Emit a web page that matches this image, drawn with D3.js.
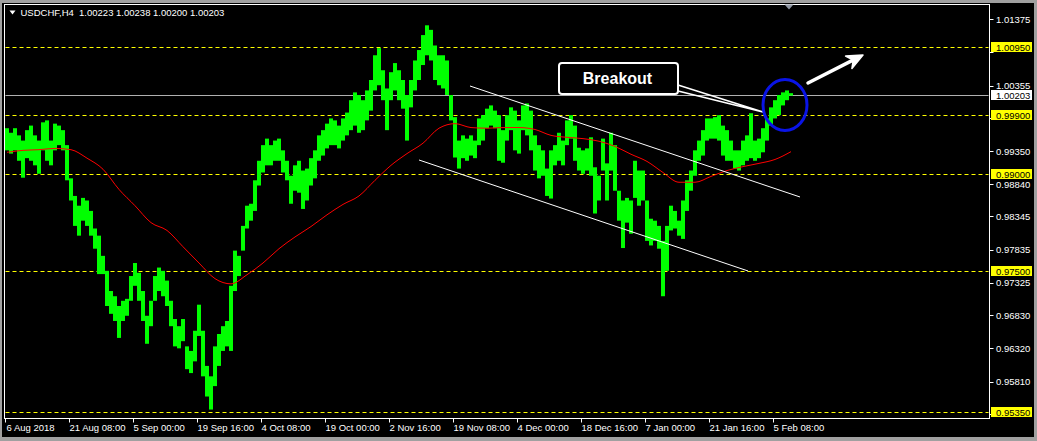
<!DOCTYPE html>
<html><head><meta charset="utf-8">
<script src="https://cdn.jsdelivr.net/npm/d3@7"></script>
<style>html,body{margin:0;padding:0;background:#a0a0a0;overflow:hidden}</style>
</head><body>
<svg id="c" width="1037" height="441"></svg>
<script>
// ---------------- data ----------------
const symbolTitle = "USDCHF,H4  1.00223 1.00238 1.00200 1.00203";

const barHigh = [
0.9970,0.9963,0.9970,0.9959,0.9951,0.9967,0.9974,0.9959,0.9951,0.9979,
0.9982,0.9951,0.9977,0.9974,0.9967,0.9944,0.9893,0.9866,0.9851,0.9863,
0.9859,0.9843,0.9816,0.9805,0.9774,0.9751,0.9720,0.9712,0.9697,0.9705,
0.9708,0.9743,0.9763,0.9748,0.9720,0.9682,0.9705,0.9743,0.9756,0.9751,
0.9736,0.9705,0.9677,0.9666,0.9677,0.9635,0.9628,0.9659,0.9699,0.9659,
0.9605,0.9589,0.9635,0.9654,0.9666,0.9674,0.9728,0.9782,0.9774,0.9820,
0.9851,0.9854,0.9890,0.9920,0.9944,0.9954,0.9944,0.9951,0.9954,0.9936,
0.9920,0.9897,0.9913,0.9920,0.9905,0.9908,0.9924,0.9936,0.9959,0.9967,
0.9977,0.9985,0.9982,0.9974,0.9985,0.9994,1.0013,1.0025,1.0021,1.0013,
1.0028,1.0044,1.0082,1.0093,1.0059,1.0031,1.0056,1.0070,1.0059,1.0044,
1.0021,1.0044,1.0074,1.0090,1.0113,1.0128,1.0121,1.0097,1.0082,1.0082,
1.0074,1.0021,0.9987,0.9951,0.9959,0.9954,0.9959,0.9951,0.9985,0.9990,
1.0000,1.0005,0.9997,0.9990,0.9967,0.9990,1.0002,0.9997,0.9982,1.0005,
1.0008,0.9997,0.9959,0.9944,0.9936,0.9908,0.9936,0.9944,0.9963,0.9951,
0.9982,0.9990,0.9974,0.9940,0.9936,0.9939,0.9956,0.9910,0.9897,0.9954,
0.9916,0.9963,0.9944,0.9874,0.9859,0.9863,0.9859,0.9920,0.9905,0.9905,
0.9859,0.9831,0.9828,0.9820,0.9797,0.9820,0.9851,0.9843,0.9828,0.9859,
0.9890,0.9905,0.9936,0.9951,0.9967,0.9985,0.9985,0.9987,0.9990,0.9974,
0.9967,0.9951,0.9936,0.9936,0.9951,0.9959,0.9993,0.9951,0.9954,0.9970,
0.9985,1.0002,1.0013,1.0021,1.0025,1.0028,1.00238
];
const barLow = [
0.9936,0.9931,0.9936,0.9920,0.9894,0.9924,0.9920,0.9913,0.9900,0.9936,
0.9920,0.9913,0.9936,0.9944,0.9936,0.9890,0.9859,0.9820,0.9805,0.9828,
0.9820,0.9805,0.9785,0.9746,0.9746,0.9697,0.9685,0.9674,0.9648,0.9674,
0.9682,0.9705,0.9728,0.9705,0.9674,0.9639,0.9666,0.9705,0.9720,0.9712,
0.9697,0.9666,0.9635,0.9632,0.9643,0.9600,0.9594,0.9612,0.9651,0.9589,
0.9558,0.9538,0.9574,0.9605,0.9628,0.9635,0.9628,0.9720,0.9743,0.9782,
0.9816,0.9828,0.9843,0.9882,0.9902,0.9913,0.9913,0.9920,0.9920,0.9902,
0.9890,0.9854,0.9874,0.9871,0.9846,0.9859,0.9882,0.9893,0.9920,0.9928,
0.9939,0.9944,0.9944,0.9939,0.9951,0.9959,0.9967,0.9974,0.9963,0.9967,
0.9982,0.9997,1.0028,1.0036,1.0013,0.9967,1.0013,1.0028,1.0013,1.0000,
0.9951,1.0002,1.0028,1.0044,1.0067,1.0082,1.0074,1.0044,1.0036,1.0031,
1.0021,0.9982,0.9925,0.9908,0.9924,0.9920,0.9928,0.9924,0.9944,0.9951,
0.9970,0.9974,0.9970,0.9920,0.9917,0.9951,0.9967,0.9936,0.9931,0.9967,
0.9959,0.9936,0.9905,0.9893,0.9897,0.9866,0.9862,0.9913,0.9920,0.9913,
0.9944,0.9954,0.9920,0.9905,0.9900,0.9905,0.9897,0.9839,0.9859,0.9905,
0.9859,0.9905,0.9874,0.9828,0.9786,0.9825,0.9808,0.9863,0.9851,0.9859,
0.9797,0.9790,0.9797,0.9785,0.9712,0.9751,0.9813,0.9816,0.9805,0.9800,
0.9843,0.9874,0.9897,0.9920,0.9928,0.9951,0.9954,0.9954,0.9951,0.9928,
0.9920,0.9920,0.9908,0.9905,0.9913,0.9920,0.9924,0.9920,0.9924,0.9933,
0.9951,0.9974,0.9985,0.9990,1.0005,1.0013,1.00200
];

// moving average, one value every 4th bar (bar 0, 4, 8, ... 196)
const maEvery = 4;
const maValues = [
0.9933,0.9936,0.9937,0.9939,0.9937,0.9924,0.9907,0.9876,0.9851,0.9825,
0.9813,0.9788,0.9763,0.9739,0.9731,0.9745,0.9763,0.9785,0.9803,0.9819,
0.9837,0.9853,0.9866,0.9890,0.9913,0.9931,0.9947,0.9970,0.9977,0.9971,
0.9970,0.9971,0.9971,0.9968,0.9959,0.9956,0.9954,0.9950,0.9942,0.9930,
0.9919,0.9902,0.9887,0.9887,0.9896,0.9905,0.9911,0.9916,0.9922,0.9934
];

const timeLabels = ["6 Aug 2018","21 Aug 08:00","5 Sep 00:00","19 Sep 16:00","4 Oct 08:00",
  "19 Oct 00:00","2 Nov 16:00","19 Nov 08:00","4 Dec 00:00","18 Dec 16:00",
  "7 Jan 00:00","21 Jan 16:00","5 Feb 08:00"];
const timeLabelBars = [0,16,32,48,64,80,96,112,128,144,160,176,192];

const priceTicks = [1.01375,1.00865,1.00355,0.99860,0.99350,0.98840,0.98345,
  0.97835,0.97325,0.96830,0.96320,0.95810,0.95315];
const levelLines = [1.00950,0.99900,0.99000,0.97500,0.95350];
const levelLabels = ["1.00950","0.99900","0.99000","0.97500","0.95350"];
const currentPrice = 1.00203;
const currentLabel = "1.00203";

// annotations in (bar index, price)
const channelUpper = [[115.75,1.00348],[198.25,0.98644]];
const channelLower = [[103,0.99212],[185.25,0.97508]];
const breakoutText = "Breakout";
const breakoutBox = [138,1.00701];
const breakoutTip = [189,0.99949];
const breakoutCircle = [194.5,1.00056];
const arrowFrom = [200.25,1.00394];
const arrowTo = [214,1.00824];

// ---------------- drawing ----------------
const W = 1037, H = 441;
const plot = {left:4.5, top:4.5, right:989.5, bottom:418.5};
const svg = d3.select("#c");
const FONT = "'Liberation Sans', Arial, sans-serif";

svg.append("rect").attr("width",W).attr("height",H).attr("fill","#a0a0a0");
svg.append("rect").attr("x",2).attr("y",3).attr("width",1032).attr("height",434).attr("fill","#000");

const x = d3.scaleLinear().domain([0,196]).range([7,791]);
const y = d3.scaleLinear().domain([0.9535,1.0095]).range([411.5,46.8]);
const bw = x(1)-x(0);

svg.append("clipPath").attr("id","clip").append("rect")
  .attr("x",plot.left+0.5).attr("y",plot.top+0.5)
  .attr("width",plot.right-plot.left-1).attr("height",plot.bottom-plot.top-1);
const g = svg.append("g").attr("clip-path","url(#clip)");

// level dashed lines
g.selectAll("line.level").data(levelLines).join("line")
  .attr("x1",plot.left+1).attr("x2",plot.right-1)
  .attr("y1",d=>Math.round(y(d))+0.5).attr("y2",d=>Math.round(y(d))+0.5)
  .attr("stroke","#ffff00").attr("stroke-width",1).attr("stroke-dasharray","4,3");

// current price line
g.append("line").attr("x1",plot.left+1).attr("x2",plot.right-1)
  .attr("y1",Math.round(y(currentPrice))+0.5).attr("y2",Math.round(y(currentPrice))+0.5)
  .attr("stroke","#b0b0b0").attr("stroke-width",1);

// price bars
const bars = barHigh.map((h,i)=>({i,h,l:barLow[i]}));
g.selectAll("rect.bar").data(bars).join("rect")
  .attr("x",d=>x(d.i)-bw/2).attr("width",bw)
  .attr("y",d=>y(d.h)).attr("height",d=>Math.max(1,y(d.l)-y(d.h)))
  .attr("fill","#00ff00");

// moving average
const maPts = maValues.map((v,k)=>[k*maEvery,v]);
g.append("path").datum(maPts)
  .attr("d",d3.line().x(d=>x(d[0])).y(d=>y(d[1])).curve(d3.curveMonotoneX))
  .attr("fill","none").attr("stroke","#ff0000").attr("stroke-width",1);

// channel lines
[channelUpper,channelLower].forEach(c=>{
  g.append("line").attr("x1",x(c[0][0])).attr("y1",y(c[0][1]))
    .attr("x2",x(c[1][0])).attr("y2",y(c[1][1]))
    .attr("stroke","#ffffff").attr("stroke-width",1);
});

// breakout callout
const bx = x(breakoutBox[0]), by = y(breakoutBox[1]);
const bwid = 119, bht = 31;
const tipX = x(breakoutTip[0]), tipY = y(breakoutTip[1]);
g.append("path")
  .attr("d",`M${bx+bwid},${by+22}L${tipX},${tipY}L${bx+bwid},${by+28}`)
  .attr("fill","none").attr("stroke","#ffffff").attr("stroke-width",1.5);
g.append("rect").attr("x",bx).attr("y",by).attr("width",bwid).attr("height",bht)
  .attr("rx",3).attr("fill","#000").attr("stroke","#ffffff").attr("stroke-width",2);
g.append("text").attr("x",bx+bwid/2-1).attr("y",by+20.5)
  .attr("text-anchor","middle").attr("fill","#ffffff")
  .attr("font-family",FONT).attr("font-weight","bold").attr("font-size",16)
  .text(breakoutText);

// blue ellipse
g.append("ellipse").attr("cx",x(breakoutCircle[0])).attr("cy",y(breakoutCircle[1]))
  .attr("rx",22).attr("ry",25.5).attr("fill","none")
  .attr("stroke","#0a14e6").attr("stroke-width",3);

// arrow
const ax1=x(arrowFrom[0]), ay1=y(arrowFrom[1]), ax2=x(arrowTo[0]), ay2=y(arrowTo[1]);
const len=Math.hypot(ax2-ax1,ay2-ay1), ux=(ax2-ax1)/len, uy=(ay2-ay1)/len;
const hl=16, hw=7;
const bcx=ax2-ux*hl, bcy=ay2-uy*hl;
g.append("line").attr("x1",ax1).attr("y1",ay1).attr("x2",ax2-ux*8).attr("y2",ay2-uy*8)
  .attr("stroke","#ffffff").attr("stroke-width",3.5).attr("stroke-linecap","round");
g.append("path")
  .attr("d",`M${ax2},${ay2}L${bcx-uy*hw},${bcy+ux*hw}L${ax2-ux*11},${ay2-uy*11}L${bcx+uy*hw},${bcy-ux*hw}Z`)
  .attr("fill","#ffffff").attr("stroke","#ffffff").attr("stroke-width",1.5).attr("stroke-linejoin","round");

// frame
svg.append("rect").attr("x",plot.left).attr("y",plot.top)
  .attr("width",plot.right-plot.left).attr("height",plot.bottom-plot.top)
  .attr("fill","none").attr("stroke","#ffffff").attr("stroke-width",1);

// shift marker
svg.append("path").attr("d",`M${x(195.5)-4.5},4.5L${x(195.5)+4.5},4.5L${x(195.5)},9.5Z`).attr("fill","#8f96a3");

// right price axis (labels hidden behind a level label are not drawn)
const labelRows = levelLines.concat([currentPrice]).map(v=>y(v));
const visibleTicks = priceTicks.filter(t=>labelRows.every(r=>Math.abs(y(t)-r)>8));
const ra = svg.append("g");
ra.selectAll("line").data(priceTicks).join("line")
  .attr("x1",plot.right).attr("x2",plot.right+4)
  .attr("y1",d=>Math.round(y(d))+0.5).attr("y2",d=>Math.round(y(d))+0.5)
  .attr("stroke","#ffffff");
ra.selectAll("text").data(visibleTicks).join("text")
  .attr("x",996).attr("y",d=>y(d)+3.5)
  .attr("fill","#ffffff").attr("font-family",FONT).attr("font-size",9.5)
  .text(d=>d.toFixed(5));

// level labels (yellow)
const ll = svg.append("g");
levelLines.forEach((v,k)=>{
  const yy = Math.round(y(v));
  ll.append("rect").attr("x",991).attr("y",yy-5).attr("width",41).attr("height",10).attr("fill","#ffff00");
  ll.append("text").attr("x",996).attr("y",yy+3.5).attr("fill","#000")
    .attr("font-family",FONT).attr("font-size",9.5).text(levelLabels[k]);
});
{
  const yy = Math.round(y(currentPrice));
  ll.append("rect").attr("x",991).attr("y",yy-5).attr("width",41).attr("height",10).attr("fill","#ffffff");
  ll.append("text").attr("x",996).attr("y",yy+3.5).attr("fill","#000")
    .attr("font-family",FONT).attr("font-size",9.5).text(currentLabel);
}

// bottom time axis
const ta = svg.append("g");
timeLabelBars.forEach((b,k)=>{
  const tx = Math.round(x(b)-bw/2)+0.5;
  ta.append("line").attr("x1",tx).attr("x2",tx).attr("y1",plot.bottom).attr("y2",plot.bottom+4)
    .attr("stroke","#ffffff");
  ta.append("text").attr("x",tx+(k===0?1:0)).attr("y",431)
    .attr("fill","#ffffff").attr("font-family",FONT).attr("font-size",9.5)
    .text(timeLabels[k]);
});

// title
svg.append("path").attr("d","M9.5,10.5L15.5,10.5L12.5,14.5Z").attr("fill","#ffffff");
svg.append("text").attr("x",20.5).attr("y",16).attr("fill","#ffffff")
  .attr("font-family",FONT).attr("font-size",9.5).attr("xml:space","preserve")
  .style("white-space","pre").text(symbolTitle);
</script>
</body></html>
